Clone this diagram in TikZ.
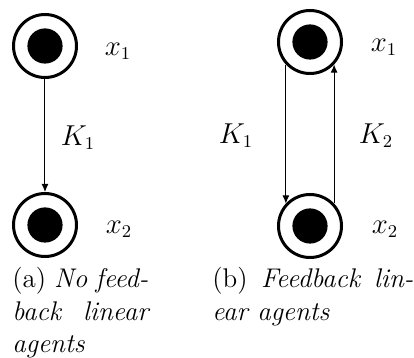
\documentclass[tikz,border=0pt]{standalone}
\usepackage{amsmath}
\usepackage{fontspec}
\usepackage{tikz}
\usetikzlibrary{arrows.meta}

\begin{document}
\begin{tikzpicture}[
  x=0.5pt, y=-0.5pt,
  agent/.style={circle, draw, line width=1.5pt, minimum size=31.5pt,
    inner sep=0pt,
    path picture={\fill (path picture bounding box.center) circle (8.8pt);}},
  lbl/.style={font=\fontsize{13.5}{15}\selectfont},
  arr/.style={-{Latex[length=4pt, width=3.5pt]}, line width=0.5pt},
  capt/.style={anchor=north west, inner sep=0pt, align=justify,
    font=\fontsize{13.5}{16.25}\selectfont},
]
  \useasboundingbox (0,0) rectangle (414,358);

  % (a) no feedback
  \node[agent] (a1) at (45,46) {};
  \node[agent] (a2) at (45,225) {};
  \draw[arr] (a1) -- (a2);
  \node[lbl] (xa1) at (118,51) {$x_1$};
  \node[lbl] (xa2) at (119,229) {$x_2$};
  \node[lbl] (ka1) at (78,138) {$K_1$};

  % (b) feedback
  \node[agent] (b1) at (310,42) {};
  \node[agent] (b2) at (310,226) {};
  \draw[arr] (b1.223) -- (b2.137);
  \draw[arr] (b2.43) -- (b1.317);
  \node[lbl] (xb1) at (384,47) {$x_1$};
  \node[lbl] (xb2) at (385,229) {$x_2$};
  \node[lbl] (kb1) at (236,136) {$K_1$};
  \node[lbl] (kb2) at (376,136) {$K_2$};

  % captions
  \node[capt, text width=68pt] (capa) at (12,267)
    {(a) \textit{No feed-\linebreak back linear\linebreak agents}};
  \node[capt, text width=100.5pt] (capb) at (212,267)
    {(b) \textit{Feedback lin-\linebreak ear agents}};
\end{tikzpicture}
\end{document}
